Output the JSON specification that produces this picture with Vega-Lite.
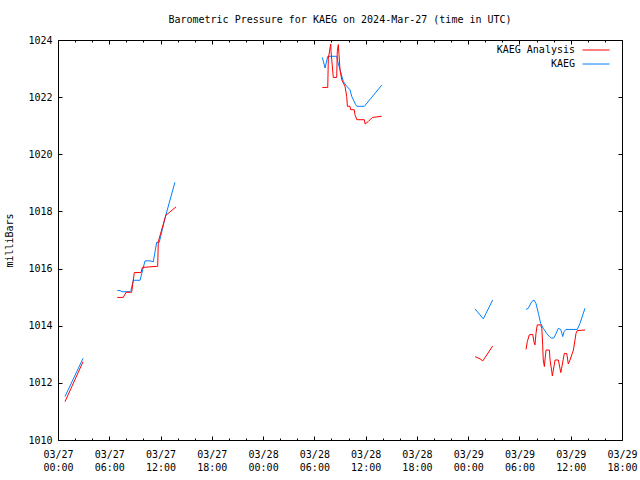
{
  "$schema": "https://vega.github.io/schema/vega-lite/v6.json",
  "width": 564,
  "height": 400,
  "autosize": {"type": "none"},
  "padding": {"left": 58, "top": 40, "right": 18, "bottom": 40},
  "background": "white",
  "title": {"text": "Barometric Pressure for KAEG on 2024-Mar-27 (time in UTC)", "font": "DejaVu Sans Mono", "fontSize": 10, "fontWeight": "normal", "color": "black", "anchor": "middle", "offset": 10},
  "config": {
    "view": {"stroke": "black", "strokeWidth": 1},
    "axis": {"labelFont": "DejaVu Sans Mono", "labelFontSize": 10, "labelColor": "black", "titleFont": "DejaVu Sans Mono", "titleFontSize": 10, "titleFontWeight": "normal", "titleColor": "black", "domain": false, "grid": false, "ticks": true, "tickColor": "#000000", "tickOpacity": 1, "tickWidth": 1},
    "legend": {"labelFont": "DejaVu Sans Mono", "labelFontSize": 10, "labelColor": "black"}
  },
  "data": {"values": [
    {"series": "KAEG", "seg": 1, "t": "2024-03-27T00:49:00Z", "p": 1011.52},
    {"series": "KAEG", "seg": 1, "t": "2024-03-27T02:56:00Z", "p": 1012.86},
    {"series": "KAEG", "seg": 2, "t": "2024-03-27T06:56:00Z", "p": 1015.23},
    {"series": "KAEG", "seg": 2, "t": "2024-03-27T07:16:00Z", "p": 1015.23},
    {"series": "KAEG", "seg": 2, "t": "2024-03-27T07:29:00Z", "p": 1015.19},
    {"series": "KAEG", "seg": 2, "t": "2024-03-27T08:26:00Z", "p": 1015.19},
    {"series": "KAEG", "seg": 2, "t": "2024-03-27T08:32:00Z", "p": 1015.23},
    {"series": "KAEG", "seg": 2, "t": "2024-03-27T08:49:00Z", "p": 1015.59},
    {"series": "KAEG", "seg": 2, "t": "2024-03-27T09:36:00Z", "p": 1015.59},
    {"series": "KAEG", "seg": 2, "t": "2024-03-27T10:11:00Z", "p": 1016.27},
    {"series": "KAEG", "seg": 2, "t": "2024-03-27T10:46:00Z", "p": 1016.27},
    {"series": "KAEG", "seg": 2, "t": "2024-03-27T11:09:00Z", "p": 1016.24},
    {"series": "KAEG", "seg": 2, "t": "2024-03-27T11:33:00Z", "p": 1016.92},
    {"series": "KAEG", "seg": 2, "t": "2024-03-27T11:51:00Z", "p": 1016.92},
    {"series": "KAEG", "seg": 2, "t": "2024-03-27T12:31:00Z", "p": 1017.76},
    {"series": "KAEG", "seg": 2, "t": "2024-03-27T13:41:00Z", "p": 1019.02},
    {"series": "KAEG", "seg": 3, "t": "2024-03-28T06:56:00Z", "p": 1023.39},
    {"series": "KAEG", "seg": 3, "t": "2024-03-28T07:15:00Z", "p": 1023.02},
    {"series": "KAEG", "seg": 3, "t": "2024-03-28T07:34:00Z", "p": 1023.43},
    {"series": "KAEG", "seg": 3, "t": "2024-03-28T08:37:00Z", "p": 1023.43},
    {"series": "KAEG", "seg": 3, "t": "2024-03-28T08:44:00Z", "p": 1023.25},
    {"series": "KAEG", "seg": 3, "t": "2024-03-28T09:23:00Z", "p": 1022.55},
    {"series": "KAEG", "seg": 3, "t": "2024-03-28T09:47:00Z", "p": 1022.38},
    {"series": "KAEG", "seg": 3, "t": "2024-03-28T10:10:00Z", "p": 1022.26},
    {"series": "KAEG", "seg": 3, "t": "2024-03-28T10:22:00Z", "p": 1022.03},
    {"series": "KAEG", "seg": 3, "t": "2024-03-28T10:50:00Z", "p": 1021.74},
    {"series": "KAEG", "seg": 3, "t": "2024-03-28T10:58:00Z", "p": 1021.68},
    {"series": "KAEG", "seg": 3, "t": "2024-03-28T11:51:00Z", "p": 1021.68},
    {"series": "KAEG", "seg": 3, "t": "2024-03-28T13:53:00Z", "p": 1022.42},
    {"series": "KAEG", "seg": 4, "t": "2024-03-29T00:48:00Z", "p": 1014.59},
    {"series": "KAEG", "seg": 4, "t": "2024-03-29T01:46:00Z", "p": 1014.24},
    {"series": "KAEG", "seg": 4, "t": "2024-03-29T02:52:00Z", "p": 1014.90},
    {"series": "KAEG", "seg": 5, "t": "2024-03-29T06:46:00Z", "p": 1014.57},
    {"series": "KAEG", "seg": 5, "t": "2024-03-29T07:02:00Z", "p": 1014.61},
    {"series": "KAEG", "seg": 5, "t": "2024-03-29T07:26:00Z", "p": 1014.84},
    {"series": "KAEG", "seg": 5, "t": "2024-03-29T07:42:00Z", "p": 1014.90},
    {"series": "KAEG", "seg": 5, "t": "2024-03-29T07:56:00Z", "p": 1014.78},
    {"series": "KAEG", "seg": 5, "t": "2024-03-29T08:13:00Z", "p": 1014.43},
    {"series": "KAEG", "seg": 5, "t": "2024-03-29T08:29:00Z", "p": 1014.08},
    {"series": "KAEG", "seg": 5, "t": "2024-03-29T08:47:00Z", "p": 1013.91},
    {"series": "KAEG", "seg": 5, "t": "2024-03-29T09:11:00Z", "p": 1013.73},
    {"series": "KAEG", "seg": 5, "t": "2024-03-29T09:30:00Z", "p": 1013.62},
    {"series": "KAEG", "seg": 5, "t": "2024-03-29T09:47:00Z", "p": 1013.56},
    {"series": "KAEG", "seg": 5, "t": "2024-03-29T10:03:00Z", "p": 1013.58},
    {"series": "KAEG", "seg": 5, "t": "2024-03-29T10:17:00Z", "p": 1013.73},
    {"series": "KAEG", "seg": 5, "t": "2024-03-29T10:33:00Z", "p": 1013.91},
    {"series": "KAEG", "seg": 5, "t": "2024-03-29T10:50:00Z", "p": 1013.87},
    {"series": "KAEG", "seg": 5, "t": "2024-03-29T11:04:00Z", "p": 1013.62},
    {"series": "KAEG", "seg": 5, "t": "2024-03-29T11:13:00Z", "p": 1013.79},
    {"series": "KAEG", "seg": 5, "t": "2024-03-29T11:27:00Z", "p": 1013.87},
    {"series": "KAEG", "seg": 5, "t": "2024-03-29T12:46:00Z", "p": 1013.87},
    {"series": "KAEG", "seg": 5, "t": "2024-03-29T13:05:00Z", "p": 1014.08},
    {"series": "KAEG", "seg": 5, "t": "2024-03-29T13:40:00Z", "p": 1014.61},
    {"series": "KAEG Analysis", "seg": 1, "t": "2024-03-27T00:49:00Z", "p": 1011.34},
    {"series": "KAEG Analysis", "seg": 1, "t": "2024-03-27T02:56:00Z", "p": 1012.74},
    {"series": "KAEG Analysis", "seg": 2, "t": "2024-03-27T06:56:00Z", "p": 1014.99},
    {"series": "KAEG Analysis", "seg": 2, "t": "2024-03-27T07:38:00Z", "p": 1014.99},
    {"series": "KAEG Analysis", "seg": 2, "t": "2024-03-27T07:58:00Z", "p": 1015.17},
    {"series": "KAEG Analysis", "seg": 2, "t": "2024-03-27T08:37:00Z", "p": 1015.17},
    {"series": "KAEG Analysis", "seg": 2, "t": "2024-03-27T08:56:00Z", "p": 1015.86},
    {"series": "KAEG Analysis", "seg": 2, "t": "2024-03-27T09:43:00Z", "p": 1015.86},
    {"series": "KAEG Analysis", "seg": 2, "t": "2024-03-27T09:52:00Z", "p": 1016.04},
    {"series": "KAEG Analysis", "seg": 2, "t": "2024-03-27T11:40:00Z", "p": 1016.08},
    {"series": "KAEG Analysis", "seg": 2, "t": "2024-03-27T11:44:00Z", "p": 1016.94},
    {"series": "KAEG Analysis", "seg": 2, "t": "2024-03-27T12:38:00Z", "p": 1017.88},
    {"series": "KAEG Analysis", "seg": 2, "t": "2024-03-27T12:51:00Z", "p": 1017.92},
    {"series": "KAEG Analysis", "seg": 2, "t": "2024-03-27T13:49:00Z", "p": 1018.16},
    {"series": "KAEG Analysis", "seg": 3, "t": "2024-03-28T06:56:00Z", "p": 1022.34},
    {"series": "KAEG Analysis", "seg": 3, "t": "2024-03-28T07:34:00Z", "p": 1022.34},
    {"series": "KAEG Analysis", "seg": 3, "t": "2024-03-28T07:38:00Z", "p": 1023.35},
    {"series": "KAEG Analysis", "seg": 3, "t": "2024-03-28T07:55:00Z", "p": 1023.86},
    {"series": "KAEG Analysis", "seg": 3, "t": "2024-03-28T07:57:00Z", "p": 1023.60},
    {"series": "KAEG Analysis", "seg": 3, "t": "2024-03-28T08:13:00Z", "p": 1022.69},
    {"series": "KAEG Analysis", "seg": 3, "t": "2024-03-28T08:37:00Z", "p": 1022.69},
    {"series": "KAEG Analysis", "seg": 3, "t": "2024-03-28T08:41:00Z", "p": 1023.60},
    {"series": "KAEG Analysis", "seg": 3, "t": "2024-03-28T08:48:00Z", "p": 1023.84},
    {"series": "KAEG Analysis", "seg": 3, "t": "2024-03-28T08:53:00Z", "p": 1023.49},
    {"series": "KAEG Analysis", "seg": 3, "t": "2024-03-28T09:00:00Z", "p": 1022.96},
    {"series": "KAEG Analysis", "seg": 3, "t": "2024-03-28T09:12:00Z", "p": 1022.61},
    {"series": "KAEG Analysis", "seg": 3, "t": "2024-03-28T09:35:00Z", "p": 1022.38},
    {"series": "KAEG Analysis", "seg": 3, "t": "2024-03-28T09:47:00Z", "p": 1022.03},
    {"series": "KAEG Analysis", "seg": 3, "t": "2024-03-28T09:52:00Z", "p": 1021.68},
    {"series": "KAEG Analysis", "seg": 3, "t": "2024-03-28T10:10:00Z", "p": 1021.68},
    {"series": "KAEG Analysis", "seg": 3, "t": "2024-03-28T10:15:00Z", "p": 1021.56},
    {"series": "KAEG Analysis", "seg": 3, "t": "2024-03-28T10:40:00Z", "p": 1021.56},
    {"series": "KAEG Analysis", "seg": 3, "t": "2024-03-28T10:45:00Z", "p": 1021.39},
    {"series": "KAEG Analysis", "seg": 3, "t": "2024-03-28T10:58:00Z", "p": 1021.21},
    {"series": "KAEG Analysis", "seg": 3, "t": "2024-03-28T11:51:00Z", "p": 1021.21},
    {"series": "KAEG Analysis", "seg": 3, "t": "2024-03-28T11:56:00Z", "p": 1021.06},
    {"series": "KAEG Analysis", "seg": 3, "t": "2024-03-28T12:19:00Z", "p": 1021.15},
    {"series": "KAEG Analysis", "seg": 3, "t": "2024-03-28T12:47:00Z", "p": 1021.29},
    {"series": "KAEG Analysis", "seg": 3, "t": "2024-03-28T13:53:00Z", "p": 1021.33},
    {"series": "KAEG Analysis", "seg": 4, "t": "2024-03-29T00:48:00Z", "p": 1012.92},
    {"series": "KAEG Analysis", "seg": 4, "t": "2024-03-29T01:23:00Z", "p": 1012.84},
    {"series": "KAEG Analysis", "seg": 4, "t": "2024-03-29T01:43:00Z", "p": 1012.77},
    {"series": "KAEG Analysis", "seg": 4, "t": "2024-03-29T02:52:00Z", "p": 1013.29},
    {"series": "KAEG Analysis", "seg": 5, "t": "2024-03-29T06:46:00Z", "p": 1013.17},
    {"series": "KAEG Analysis", "seg": 5, "t": "2024-03-29T06:55:00Z", "p": 1013.44},
    {"series": "KAEG Analysis", "seg": 5, "t": "2024-03-29T07:09:00Z", "p": 1013.68},
    {"series": "KAEG Analysis", "seg": 5, "t": "2024-03-29T07:33:00Z", "p": 1013.70},
    {"series": "KAEG Analysis", "seg": 5, "t": "2024-03-29T07:42:00Z", "p": 1013.44},
    {"series": "KAEG Analysis", "seg": 5, "t": "2024-03-29T07:49:00Z", "p": 1013.33},
    {"series": "KAEG Analysis", "seg": 5, "t": "2024-03-29T07:56:00Z", "p": 1013.73},
    {"series": "KAEG Analysis", "seg": 5, "t": "2024-03-29T08:05:00Z", "p": 1014.03},
    {"series": "KAEG Analysis", "seg": 5, "t": "2024-03-29T08:29:00Z", "p": 1014.03},
    {"series": "KAEG Analysis", "seg": 5, "t": "2024-03-29T08:37:00Z", "p": 1013.91},
    {"series": "KAEG Analysis", "seg": 5, "t": "2024-03-29T08:43:00Z", "p": 1013.33},
    {"series": "KAEG Analysis", "seg": 5, "t": "2024-03-29T08:47:00Z", "p": 1012.80},
    {"series": "KAEG Analysis", "seg": 5, "t": "2024-03-29T08:55:00Z", "p": 1012.57},
    {"series": "KAEG Analysis", "seg": 5, "t": "2024-03-29T08:59:00Z", "p": 1012.80},
    {"series": "KAEG Analysis", "seg": 5, "t": "2024-03-29T09:07:00Z", "p": 1013.15},
    {"series": "KAEG Analysis", "seg": 5, "t": "2024-03-29T09:30:00Z", "p": 1013.15},
    {"series": "KAEG Analysis", "seg": 5, "t": "2024-03-29T09:35:00Z", "p": 1012.80},
    {"series": "KAEG Analysis", "seg": 5, "t": "2024-03-29T09:47:00Z", "p": 1012.39},
    {"series": "KAEG Analysis", "seg": 5, "t": "2024-03-29T09:51:00Z", "p": 1012.24},
    {"series": "KAEG Analysis", "seg": 5, "t": "2024-03-29T09:58:00Z", "p": 1012.45},
    {"series": "KAEG Analysis", "seg": 5, "t": "2024-03-29T10:10:00Z", "p": 1012.80},
    {"series": "KAEG Analysis", "seg": 5, "t": "2024-03-29T10:33:00Z", "p": 1012.80},
    {"series": "KAEG Analysis", "seg": 5, "t": "2024-03-29T10:40:00Z", "p": 1012.63},
    {"series": "KAEG Analysis", "seg": 5, "t": "2024-03-29T10:50:00Z", "p": 1012.36},
    {"series": "KAEG Analysis", "seg": 5, "t": "2024-03-29T10:56:00Z", "p": 1012.51},
    {"series": "KAEG Analysis", "seg": 5, "t": "2024-03-29T11:15:00Z", "p": 1013.03},
    {"series": "KAEG Analysis", "seg": 5, "t": "2024-03-29T11:32:00Z", "p": 1013.03},
    {"series": "KAEG Analysis", "seg": 5, "t": "2024-03-29T11:43:00Z", "p": 1012.66},
    {"series": "KAEG Analysis", "seg": 5, "t": "2024-03-29T11:55:00Z", "p": 1012.80},
    {"series": "KAEG Analysis", "seg": 5, "t": "2024-03-29T12:19:00Z", "p": 1013.15},
    {"series": "KAEG Analysis", "seg": 5, "t": "2024-03-29T12:37:00Z", "p": 1013.73},
    {"series": "KAEG Analysis", "seg": 5, "t": "2024-03-29T12:46:00Z", "p": 1013.83},
    {"series": "KAEG Analysis", "seg": 5, "t": "2024-03-29T13:40:00Z", "p": 1013.85}
  ]},
  "layer": [
    {
      "mark": {"type": "line", "strokeWidth": 1, "interpolate": "linear"},
      "encoding": {
        "x": {"field": "t", "type": "temporal",
          "scale": {"type": "utc", "domain": [{"year": 2024, "month": 3, "date": 27, "hours": 0, "utc": true}, {"year": 2024, "month": 3, "date": 29, "hours": 18, "utc": true}], "nice": false},
          "axis": {"orient": "bottom", "title": null, "offset": -4, "ticks": true, "tickSize": 4, "tickColor": "#000000",
            "values": [
              {"year": 2024, "month": 3, "date": 27, "hours": 0, "utc": true}, {"year": 2024, "month": 3, "date": 27, "hours": 6, "utc": true},
              {"year": 2024, "month": 3, "date": 27, "hours": 12, "utc": true}, {"year": 2024, "month": 3, "date": 27, "hours": 18, "utc": true},
              {"year": 2024, "month": 3, "date": 28, "hours": 0, "utc": true}, {"year": 2024, "month": 3, "date": 28, "hours": 6, "utc": true},
              {"year": 2024, "month": 3, "date": 28, "hours": 12, "utc": true}, {"year": 2024, "month": 3, "date": 28, "hours": 18, "utc": true},
              {"year": 2024, "month": 3, "date": 29, "hours": 0, "utc": true}, {"year": 2024, "month": 3, "date": 29, "hours": 6, "utc": true},
              {"year": 2024, "month": 3, "date": 29, "hours": 12, "utc": true}, {"year": 2024, "month": 3, "date": 29, "hours": 18, "utc": true}
            ],
            "labelExpr": "[utcFormat(datum.value, '%m/%d'), utcFormat(datum.value, '%H:%M')]",
            "labelOverlap": false, "labelBound": false, "labelFlush": false, "labelPadding": 9, "labelLineHeight": 13}},
        "y": {"field": "p", "type": "quantitative",
          "scale": {"domain": [1010, 1024], "nice": false, "zero": false},
          "axis": {"orient": "left", "title": "milliBars", "format": "d", "values": [1010, 1012, 1014, 1016, 1018, 1020, 1022, 1024], "offset": -4, "ticks": true, "tickSize": 4, "tickColor": "#000000", "labelPadding": 6, "titlePadding": 13}},
        "color": {"field": "series", "type": "nominal",
          "scale": {"domain": ["KAEG Analysis", "KAEG"], "range": ["#ff0000", "#0080ff"]},
          "legend": {"orient": "none", "legendX": 533, "legendY": 5, "title": null, "symbolType": "M-3,0H3", "symbolSize": 81, "symbolStrokeWidth": 1, "symbolFillColor": "transparent", "labelAlign": "right", "labelOffset": -26, "rowPadding": 4}},
        "detail": {"field": "seg", "type": "nominal"}
      }
    },
    {
      "mark": {"type": "line", "strokeOpacity": 0},
      "encoding": {
        "x": {"field": "t", "type": "temporal",
          "axis": {"orient": "top", "title": null, "labels": false, "offset": -4, "ticks": true, "tickSize": 4, "tickColor": "#000000",
            "values": [
              {"year": 2024, "month": 3, "date": 27, "hours": 0, "utc": true}, {"year": 2024, "month": 3, "date": 27, "hours": 6, "utc": true},
              {"year": 2024, "month": 3, "date": 27, "hours": 12, "utc": true}, {"year": 2024, "month": 3, "date": 27, "hours": 18, "utc": true},
              {"year": 2024, "month": 3, "date": 28, "hours": 0, "utc": true}, {"year": 2024, "month": 3, "date": 28, "hours": 6, "utc": true},
              {"year": 2024, "month": 3, "date": 28, "hours": 12, "utc": true}, {"year": 2024, "month": 3, "date": 28, "hours": 18, "utc": true},
              {"year": 2024, "month": 3, "date": 29, "hours": 0, "utc": true}, {"year": 2024, "month": 3, "date": 29, "hours": 6, "utc": true},
              {"year": 2024, "month": 3, "date": 29, "hours": 12, "utc": true}, {"year": 2024, "month": 3, "date": 29, "hours": 18, "utc": true}
            ]}},
        "y": {"field": "p", "type": "quantitative",
          "axis": {"orient": "right", "title": null, "labels": false, "values": [1010, 1012, 1014, 1016, 1018, 1020, 1022, 1024], "offset": -4, "ticks": true, "tickSize": 4, "tickColor": "#000000"}},
        "detail": {"field": "seg", "type": "nominal"}
      }
    },
    {
      "mark": {"type": "line", "strokeOpacity": 0},
      "encoding": {
        "x": {"field": "t", "type": "temporal",
          "axis": {"orient": "bottom", "title": null, "labels": false, "offset": -2, "ticks": true, "tickSize": 2, "tickColor": "#000000",
            "values": [
              {"year": 2024, "month": 3, "date": 27, "hours": 2, "utc": true}, {"year": 2024, "month": 3, "date": 27, "hours": 4, "utc": true},
              {"year": 2024, "month": 3, "date": 27, "hours": 8, "utc": true}, {"year": 2024, "month": 3, "date": 27, "hours": 10, "utc": true},
              {"year": 2024, "month": 3, "date": 27, "hours": 14, "utc": true}, {"year": 2024, "month": 3, "date": 27, "hours": 16, "utc": true},
              {"year": 2024, "month": 3, "date": 27, "hours": 20, "utc": true}, {"year": 2024, "month": 3, "date": 27, "hours": 22, "utc": true},
              {"year": 2024, "month": 3, "date": 28, "hours": 2, "utc": true}, {"year": 2024, "month": 3, "date": 28, "hours": 4, "utc": true},
              {"year": 2024, "month": 3, "date": 28, "hours": 8, "utc": true}, {"year": 2024, "month": 3, "date": 28, "hours": 10, "utc": true},
              {"year": 2024, "month": 3, "date": 28, "hours": 14, "utc": true}, {"year": 2024, "month": 3, "date": 28, "hours": 16, "utc": true},
              {"year": 2024, "month": 3, "date": 28, "hours": 20, "utc": true}, {"year": 2024, "month": 3, "date": 28, "hours": 22, "utc": true},
              {"year": 2024, "month": 3, "date": 29, "hours": 2, "utc": true}, {"year": 2024, "month": 3, "date": 29, "hours": 4, "utc": true},
              {"year": 2024, "month": 3, "date": 29, "hours": 8, "utc": true}, {"year": 2024, "month": 3, "date": 29, "hours": 10, "utc": true},
              {"year": 2024, "month": 3, "date": 29, "hours": 14, "utc": true}, {"year": 2024, "month": 3, "date": 29, "hours": 16, "utc": true}
            ]}},
        "y": {"field": "p", "type": "quantitative", "axis": null},
        "detail": {"field": "seg", "type": "nominal"}
      }
    },
    {
      "mark": {"type": "line", "strokeOpacity": 0},
      "encoding": {
        "x": {"field": "t", "type": "temporal",
          "axis": {"orient": "top", "title": null, "labels": false, "offset": -2, "ticks": true, "tickSize": 2, "tickColor": "#000000",
            "values": [
              {"year": 2024, "month": 3, "date": 27, "hours": 2, "utc": true}, {"year": 2024, "month": 3, "date": 27, "hours": 4, "utc": true},
              {"year": 2024, "month": 3, "date": 27, "hours": 8, "utc": true}, {"year": 2024, "month": 3, "date": 27, "hours": 10, "utc": true},
              {"year": 2024, "month": 3, "date": 27, "hours": 14, "utc": true}, {"year": 2024, "month": 3, "date": 27, "hours": 16, "utc": true},
              {"year": 2024, "month": 3, "date": 27, "hours": 20, "utc": true}, {"year": 2024, "month": 3, "date": 27, "hours": 22, "utc": true},
              {"year": 2024, "month": 3, "date": 28, "hours": 2, "utc": true}, {"year": 2024, "month": 3, "date": 28, "hours": 4, "utc": true},
              {"year": 2024, "month": 3, "date": 28, "hours": 8, "utc": true}, {"year": 2024, "month": 3, "date": 28, "hours": 10, "utc": true},
              {"year": 2024, "month": 3, "date": 28, "hours": 14, "utc": true}, {"year": 2024, "month": 3, "date": 28, "hours": 16, "utc": true},
              {"year": 2024, "month": 3, "date": 28, "hours": 20, "utc": true}, {"year": 2024, "month": 3, "date": 28, "hours": 22, "utc": true},
              {"year": 2024, "month": 3, "date": 29, "hours": 2, "utc": true}, {"year": 2024, "month": 3, "date": 29, "hours": 4, "utc": true},
              {"year": 2024, "month": 3, "date": 29, "hours": 8, "utc": true}, {"year": 2024, "month": 3, "date": 29, "hours": 10, "utc": true},
              {"year": 2024, "month": 3, "date": 29, "hours": 14, "utc": true}, {"year": 2024, "month": 3, "date": 29, "hours": 16, "utc": true}
            ]}},
        "y": {"field": "p", "type": "quantitative", "axis": null},
        "detail": {"field": "seg", "type": "nominal"}
      }
    }
  ],
  "resolve": {"axis": {"x": "independent", "y": "independent"}}
}
